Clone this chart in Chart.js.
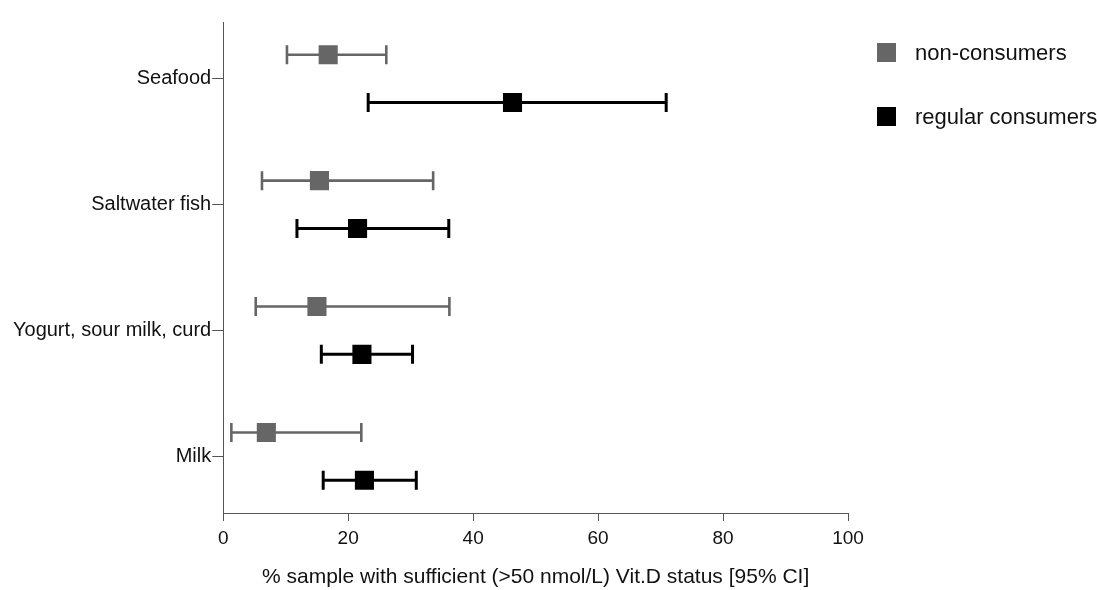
<!DOCTYPE html>
<html>
<head>
<meta charset="utf-8">
<script src="https://cdn.jsdelivr.net/npm/chart.js@4"></script>
<style>
  html, body { margin: 0; padding: 0; background: #fff; }
  #wrap { width: 1097px; height: 590px; }
</style>
</head>
<body>
<div id="wrap"><canvas id="forest"></canvas></div>
<script>
// food groups, top to bottom
var categories = ['Seafood', 'Saltwater fish', 'Yogurt, sour milk, curd', 'Milk'];

// non-consumers: estimate and 95% CI
var nonEst  = [16.8, 15.4, 15.0, 6.9];
var nonLow  = [10.2, 6.2, 5.2, 1.3];
var nonHigh = [26.1, 33.6, 36.2, 22.1];

// regular consumers: estimate and 95% CI
var regEst  = [46.3, 21.5, 22.2, 22.6];
var regLow  = [23.2, 11.8, 15.7, 16.0];
var regHigh = [70.9, 36.1, 30.3, 30.9];

var xTicks = [0, 20, 40, 60, 80, 100];

var GRAY = '#666666';
var BLACK = '#000000';
var AXIS = '#555555';
var FONT = '"Liberation Sans", Arial, sans-serif';
var shift = 0.19; // vertical shift of each group inside its row

function rows(est, low, high, dir) {
    return categories.map(function (c, i) {
        return { x: est[i], y: i + dir * shift, lo: low[i], hi: high[i] };
    });
}

// horizontal CI whiskers with end caps, drawn under the squares
var whiskers = {
    id: 'whiskers',
    beforeDatasetsDraw: function (chart) {
        var ctx = chart.ctx;
        var xs = chart.scales.x, ys = chart.scales.y;
        chart.data.datasets.forEach(function (ds) {
            ctx.save();
            ctx.strokeStyle = ds.backgroundColor;
            ctx.lineWidth = ds.whiskerWidth;
            ds.data.forEach(function (p) {
                var y = ys.getPixelForValue(p.y);
                var x1 = xs.getPixelForValue(p.lo);
                var x2 = xs.getPixelForValue(p.hi);
                var h = 9.5;
                ctx.beginPath();
                ctx.moveTo(x1, y); ctx.lineTo(x2, y);
                ctx.moveTo(x1, y - h); ctx.lineTo(x1, y + h);
                ctx.moveTo(x2, y - h); ctx.lineTo(x2, y + h);
                ctx.stroke();
            });
            ctx.restore();
        });
    }
};

// legend to the right of the plot area
var sideLegend = {
    id: 'sideLegend',
    afterDraw: function (chart) {
        var ctx = chart.ctx;
        var left = chart.chartArea.right + 29;
        var tops = [43, 107];
        ctx.save();
        ctx.font = '22px ' + FONT;
        ctx.textBaseline = 'middle';
        chart.data.datasets.forEach(function (ds, i) {
            ctx.fillStyle = ds.backgroundColor;
            ctx.fillRect(left, tops[i], 19, 19);
            ctx.fillStyle = '#111';
            ctx.fillText(ds.label, left + 38, tops[i] + 11);
        });
        ctx.restore();
    }
};

new Chart(document.getElementById('forest'), {
    type: 'scatter',
    data: {
        datasets: [{
            label: 'non-consumers',
            data: rows(nonEst, nonLow, nonHigh, -1),
            backgroundColor: GRAY,
            borderColor: GRAY,
            borderWidth: 0,
            whiskerWidth: 2.6,
            pointStyle: 'rect',
            pointRadius: 13.5,
            pointHoverRadius: 13.5
        }, {
            label: 'regular consumers',
            data: rows(regEst, regLow, regHigh, 1),
            backgroundColor: BLACK,
            borderColor: BLACK,
            borderWidth: 0,
            whiskerWidth: 3,
            pointStyle: 'rect',
            pointRadius: 13.5,
            pointHoverRadius: 13.5
        }]
    },
    options: {
        responsive: true,
        maintainAspectRatio: false,
        animation: false,
        layout: { padding: { left: 12, right: 249, top: 22, bottom: 0 } },
        plugins: {
            legend: { display: false },
            tooltip: { enabled: false }
        },
        scales: {
            x: {
                type: 'linear',
                min: 0,
                max: 100,
                afterBuildTicks: function (axis) {
                    axis.ticks = xTicks.map(function (v) { return { value: v }; });
                },
                grid: { drawOnChartArea: false, color: AXIS, tickLength: 8, tickWidth: 1 },
                border: { color: AXIS, width: 1 },
                ticks: { color: '#111', font: { family: FONT, size: 19 }, padding: 6, maxRotation: 0 },
                title: {
                    display: true,
                    text: '% sample with sufficient (>50 nmol/L) Vit.D status [95% CI]',
                    color: '#111',
                    font: { family: FONT, size: 21 },
                    padding: { top: 9, bottom: 0 }
                }
            },
            y: {
                type: 'linear',
                reverse: true,
                min: -0.45,
                max: 3.45,
                afterBuildTicks: function (axis) {
                    axis.ticks = categories.map(function (c, i) { return { value: i }; });
                },
                grid: { drawOnChartArea: false, color: AXIS, tickLength: 11, tickWidth: 1 },
                border: { color: AXIS, width: 1 },
                ticks: {
                    color: '#111',
                    font: { family: FONT, size: 20 },
                    padding: 1,
                    callback: function (v) { return categories[v]; }
                }
            }
        }
    },
    plugins: [whiskers, sideLegend]
});
</script>
</body>
</html>
